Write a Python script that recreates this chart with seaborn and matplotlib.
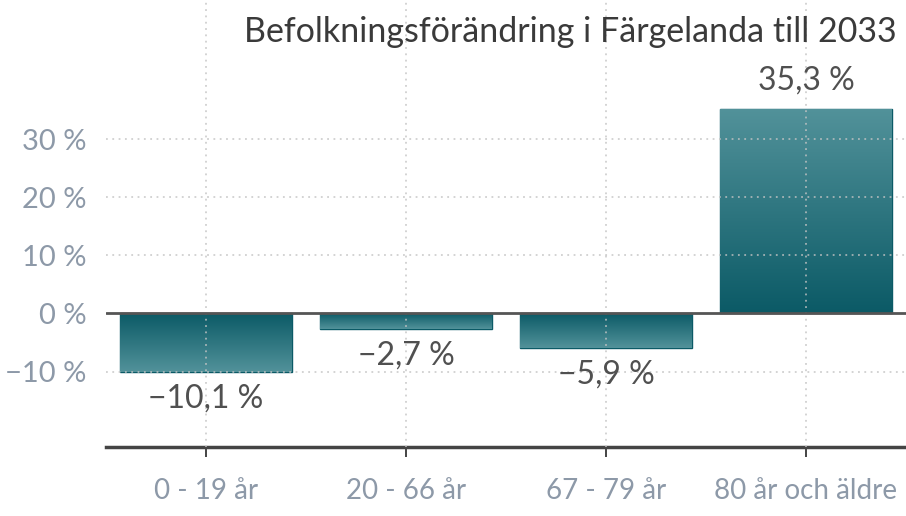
import numpy as np
import pandas as pd
import matplotlib
matplotlib.use("Agg")
import matplotlib.pyplot as plt
import seaborn as sns
from matplotlib.colors import LinearSegmentedColormap

# Data
age_groups = ["0 - 19 år", "20 - 66 år", "67 - 79 år", "80 år och äldre"]
change_pct = [-10.1, -2.7, -5.9, 35.3]
y_ticks = [-10, 0, 10, 20, 30]
title = "Befolkningsförändring i Färgelanda till 2033"

sns.set_theme(style="white")
plt.rcParams["font.family"] = ["Lato", "DejaVu Sans"]

df = pd.DataFrame({"group": age_groups, "change": change_pct})

fig = plt.figure(figsize=(9.06, 5.16), dpi=100)
ax = fig.add_axes([106 / 906, 69 / 516, 800 / 906, 447 / 516])

dark = "#0b5a66"
light = "#52929a"
sns.barplot(data=df, x="group", y="change", color=dark, width=0.86,
            edgecolor=dark, linewidth=1, ax=ax, zorder=2)

# gradient fill: dark at the zero line, lighter towards the bar end
cmap = LinearSegmentedColormap.from_list("teal", [dark, light])
grad = np.linspace(0, 1, 256).reshape(-1, 1)
for bar in ax.patches:
    x0, w = bar.get_x(), bar.get_width()
    y0, h = bar.get_y(), bar.get_height()
    top, bottom = max(y0, y0 + h), min(y0, y0 + h)
    img = grad if top > 0 else grad[::-1]
    im = ax.imshow(img, cmap=cmap, aspect="auto", origin="lower",
                   extent=[x0, x0 + w, bottom, top], zorder=2.1)
    im.set_clip_path(bar)
ax.set_xlim(-0.5, 3.5)
ax.set_ylim(-23, 54)

# value labels
for i, v in enumerate(change_pct):
    txt = f"{v:.1f} %".replace(".", ",").replace("-", "\u2212")
    off = 20 if v > 0 else -19
    ax.annotate(txt, (i, v), xytext=(0, off), textcoords="offset points",
                ha="center", va="center", fontsize=23, color="#505050",
                zorder=5)

# dotted grid lines, drawn over the bars
for t in y_ticks:
    if t != 0:
        ax.axhline(t, color="#c4c4c4", linestyle=(0, (1, 2.5)), linewidth=1.3,
                   zorder=3, alpha=0.8)
for i in range(len(age_groups)):
    ax.axvline(i, color="#c4c4c4", linestyle=(0, (1, 2.5)), linewidth=1.3,
               zorder=3, alpha=0.8)
ax.axhline(0, color="#555555", linewidth=2, zorder=4)

ax.set_yticks(y_ticks)
ax.set_yticklabels([f"{t} %".replace("-", "\u2212") for t in y_ticks])
ax.set_xlabel("")
ax.set_ylabel("")

for s in ["left", "right", "top"]:
    ax.spines[s].set_visible(False)
ax.spines["bottom"].set_color("#444444")
ax.spines["bottom"].set_linewidth(2.5)

ax.tick_params(axis="y", length=0, pad=14, labelsize=21, labelcolor="#8d99a8")
ax.tick_params(axis="x", length=7, width=1.4, color="#444444", pad=15,
               labelsize=20, labelcolor="#8d99a8", bottom=True)

fig.text(897 / 906, 1 - 32 / 516, title, ha="right", va="center",
         fontsize=24.5, color="#3a3a3a")

fig.savefig("out.png", dpi=100)
